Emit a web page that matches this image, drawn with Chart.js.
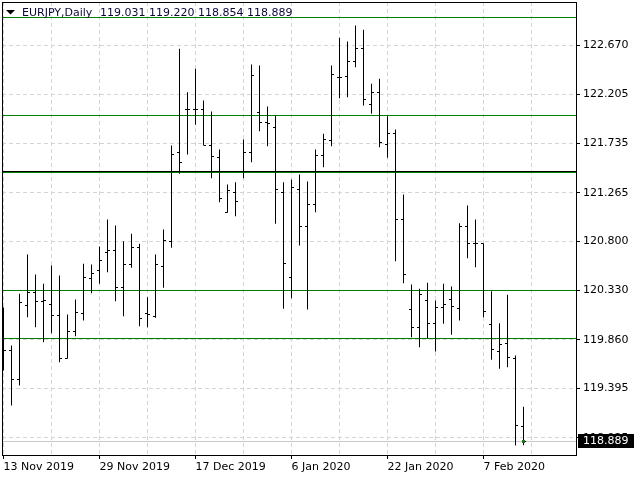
<!DOCTYPE html>
<html><head><meta charset="utf-8">
<script src="https://cdn.jsdelivr.net/npm/chart.js@4.4.0/dist/chart.umd.min.js"></script>
<style>html,body{margin:0;padding:0;background:#fff;}canvas{display:block;}</style>
</head><body>
<canvas id="c" width="640" height="480"></canvas>
<script>
const symbol = 'EURJPY,Daily';
const dates = [
 '13 Nov 2019','14 Nov 2019','15 Nov 2019','18 Nov 2019','19 Nov 2019','20 Nov 2019','21 Nov 2019','22 Nov 2019','25 Nov 2019','26 Nov 2019','27 Nov 2019','28 Nov 2019',
 '29 Nov 2019','2 Dec 2019','3 Dec 2019','4 Dec 2019','5 Dec 2019','6 Dec 2019','9 Dec 2019','10 Dec 2019','11 Dec 2019','12 Dec 2019','13 Dec 2019','16 Dec 2019',
 '17 Dec 2019','18 Dec 2019','19 Dec 2019','20 Dec 2019','23 Dec 2019','24 Dec 2019','26 Dec 2019','27 Dec 2019','30 Dec 2019','31 Dec 2019','2 Jan 2020','3 Jan 2020',
 '6 Jan 2020','7 Jan 2020','8 Jan 2020','9 Jan 2020','10 Jan 2020','13 Jan 2020','14 Jan 2020','15 Jan 2020','16 Jan 2020','17 Jan 2020','20 Jan 2020','21 Jan 2020',
 '22 Jan 2020','23 Jan 2020','24 Jan 2020','27 Jan 2020','28 Jan 2020','29 Jan 2020','30 Jan 2020','31 Jan 2020','3 Feb 2020','4 Feb 2020','5 Feb 2020','6 Feb 2020',
 '7 Feb 2020','10 Feb 2020','11 Feb 2020','12 Feb 2020','13 Feb 2020','14 Feb 2020'
];
const opens = [
 120.044,119.758,119.478,120.188,120.309,120.226,120.197,120.092,119.684,119.942,
 120.108,120.445,120.522,120.696,120.713,120.357,120.579,120.738,120.108,120.083,
 120.563,120.801,121.648,122.059,122.059,122.059,121.715,121.604,121.078,121.264,
 121.470,121.646,122.027,121.932,121.890,121.264,120.452,121.292,120.942,121.152,
 121.620,121.763,122.367,122.374,122.517,122.639,122.104,122.224,121.722,121.827,
 121.006,120.147,119.975,120.235,120.013,120.166,120.242,120.156,120.942,120.777,
 120.777,120.006,119.751,119.822,119.679,119.031
];
const highs = [
 120.168,119.806,120.299,120.675,120.484,120.395,120.569,120.474,120.102,120.245,
 120.586,120.579,120.751,121.009,120.951,120.801,120.872,120.777,120.267,120.675,
 120.913,121.715,122.639,122.224,122.448,122.145,122.040,121.677,121.343,121.365,
 121.773,122.489,122.479,122.088,122.002,121.365,121.391,121.438,121.372,121.677,
 121.827,122.479,122.744,122.708,122.861,122.820,122.304,122.352,121.995,121.868,
 121.247,120.388,120.347,120.404,120.235,120.395,120.369,120.973,121.142,121.009,
 120.782,120.324,120.019,120.290,119.710,119.220
];
const lows = [
 119.567,119.233,119.424,120.076,119.980,119.837,119.923,119.646,119.680,119.894,
 120.044,120.305,120.395,120.505,120.229,120.085,120.548,119.990,119.980,120.070,
 120.357,120.738,121.445,121.629,121.913,121.715,121.403,121.174,121.073,121.040,
 121.403,121.556,121.852,121.709,120.968,120.156,120.257,120.760,120.149,121.078,
 121.508,121.709,122.167,122.176,122.463,122.097,122.018,121.699,121.598,120.611,
 120.401,119.885,119.789,119.875,119.748,120.013,119.908,120.044,120.639,120.553,
 120.076,119.669,119.583,119.598,118.851,118.854
];
const closes = [
 119.758,119.478,120.213,120.309,120.226,120.235,120.092,119.684,119.942,120.124,
 120.452,120.490,120.617,120.713,120.362,120.579,120.738,120.061,120.102,120.576,
 120.808,121.626,121.550,122.059,122.059,121.715,121.610,121.206,121.286,121.181,
 121.646,122.384,121.932,121.922,121.292,120.586,121.317,120.942,121.152,121.620,
 121.770,122.393,122.362,122.517,122.639,122.154,122.224,121.741,121.827,121.006,
 120.484,119.975,120.293,120.013,120.166,120.194,120.178,120.942,120.777,120.777,
 120.130,119.765,119.815,119.688,119.039,118.889
];
const yTicks = [122.670,122.205,121.735,121.265,120.800,120.330,119.860,119.395,118.925];
const greenLevels = [122.937,122.002,121.457,120.331,119.872];
const blackLevels = [121.467];
const yMin = 118.760, yMax = 123.0853;
const xMin = -0.1875, xMax = 71.5625;
const gridStep = 6, labelStep = 12;

const FONT = '11px "DejaVu Sans"';
Chart.defaults.font.family = 'DejaVu Sans';
Chart.defaults.font.size = 11;
Chart.defaults.color = '#000';

const last = closes.length - 1;

const zeroPad = s => { s.paddingTop = 0; s.paddingBottom = 0; s.paddingLeft = 0; s.paddingRight = 0; };

const mtPlugin = {
  id: 'mt',
  beforeDatasetsDraw(chart) {
    const {ctx, chartArea: a, scales: {y}} = chart;
    const row = v => Math.floor(y.getPixelForValue(v)) + 0.5;
    ctx.save();
    ctx.beginPath(); ctx.rect(a.left, a.top, a.right - a.left, a.bottom - a.top); ctx.clip();
    ctx.lineWidth = 1;
    const hline = (v, col) => { const r = row(v); ctx.strokeStyle = col; ctx.beginPath(); ctx.moveTo(a.left, r); ctx.lineTo(a.right, r); ctx.stroke(); };
    hline(closes[last], '#c8c8c8');
    greenLevels.forEach(v => hline(v, '#008000'));
    blackLevels.forEach(v => hline(v, '#000000'));
    ctx.restore();
  },
  afterDatasetsDraw(chart) {
    const {ctx, chartArea: a, scales: {x, y}} = chart;
    ctx.save();
    ctx.beginPath(); ctx.rect(a.left, a.top, a.right - a.left, a.bottom - a.top); ctx.clip();
    ctx.fillStyle = '#000';
    for (let i = 0; i < opens.length; i++) {
      const xc = Math.floor(x.getPixelForValue(i));
      const ro = Math.floor(y.getPixelForValue(opens[i]));
      const rc = Math.floor(y.getPixelForValue(closes[i]));
      ctx.fillRect(xc - 2, ro, 2, 1);
      ctx.fillRect(xc + 1, rc, 2, 1);
    }
    const xl = Math.floor(x.getPixelForValue(last));
    const rl = Math.floor(y.getPixelForValue(closes[last]));
    ctx.fillStyle = '#1a7a1a';
    ctx.fillRect(xl - 1, rl - 1, 3, 3);
    ctx.restore();
  },
  afterDraw(chart) {
    const {ctx, chartArea: a, scales: {y}} = chart;
    ctx.save();
    ctx.strokeStyle = '#000'; ctx.lineWidth = 1;
    ctx.strokeRect(a.left + 0.5, a.top + 0.5, a.right - a.left, a.bottom - a.top);
    // header
    ctx.fillStyle = '#000';
    ctx.beginPath(); ctx.moveTo(6, 10); ctx.lineTo(15, 10); ctx.lineTo(10.5, 14.5); ctx.closePath(); ctx.fill();
    ctx.font = FONT; ctx.textBaseline = 'alphabetic'; ctx.textAlign = 'left';
    ctx.fillStyle = '#0a0a3a';
    ctx.fillText(symbol, 22, 16);
    ctx.fillText([opens[last], highs[last], lows[last], closes[last]].map(v => v.toFixed(3)).join(' '), 100, 16);
    // last price box
    const r = Math.floor(y.getPixelForValue(closes[last]));
    ctx.fillStyle = '#000';
    ctx.fillRect(a.right + 2, r - 7, 56, 14);
    ctx.fillStyle = '#fff'; ctx.textBaseline = 'middle';
    ctx.fillText(closes[last].toFixed(3), a.right + 7, r + 0.5);
    ctx.restore();
  }
};

new Chart(document.getElementById('c'), {
  type: 'bar',
  data: {
    datasets: [{
      label: symbol,
      data: dates.map((d, i) => ({x: i, y: [lows[i], highs[i]]})),
      backgroundColor: '#000',
      borderWidth: 0,
      barThickness: 1,
      inflateAmount: 0,
      grouped: false
    }]
  },
  options: {
    responsive: false,
    animation: false,
    devicePixelRatio: 1,
    layout: {padding: {left: 2, top: 2, right: 0, bottom: 0}},
    plugins: {legend: {display: false}, tooltip: {enabled: false}},
    scales: {
      x: {
        type: 'linear', min: xMin, max: xMax, bounds: 'data', offset: false,
        afterBuildTicks: s => { const t = []; for (let v = 0; v <= xMax; v += gridStep) t.push({value: v}); s.ticks = t; },
        afterFit: s => { s.height = 25; zeroPad(s); },
        ticks: {autoSkip: false, maxRotation: 0, minRotation: 0, align: 'start', padding: 2, color: '#000', font: {size: 11},
          callback: v => (v % labelStep === 0 && dates[v]) ? dates[v] : ''},
        grid: {offset: false, color: '#d4d4d4', lineWidth: 1, tickLength: 4,
          tickColor: c => (c.tick && c.tick.value % labelStep === 0 && dates[c.tick.value]) ? '#000' : 'rgba(0,0,0,0)'},
        border: {display: false, dash: [4, 3]}
      },
      y: {
        type: 'linear', position: 'right', min: yMin, max: yMax, bounds: 'data', offset: false,
        afterBuildTicks: s => { s.ticks = yTicks.map(v => ({value: v})); },
        afterFit: s => { s.width = 64; zeroPad(s); },
        ticks: {autoSkip: false, padding: 3, color: '#000', font: {size: 11}, callback: v => Number(v).toFixed(3)},
        grid: {color: '#d4d4d4', lineWidth: 1, tickLength: 4, tickColor: '#000'},
        border: {display: false, dash: [4, 3]}
      }
    }
  },
  plugins: [mtPlugin]
});
</script>
</body></html>
